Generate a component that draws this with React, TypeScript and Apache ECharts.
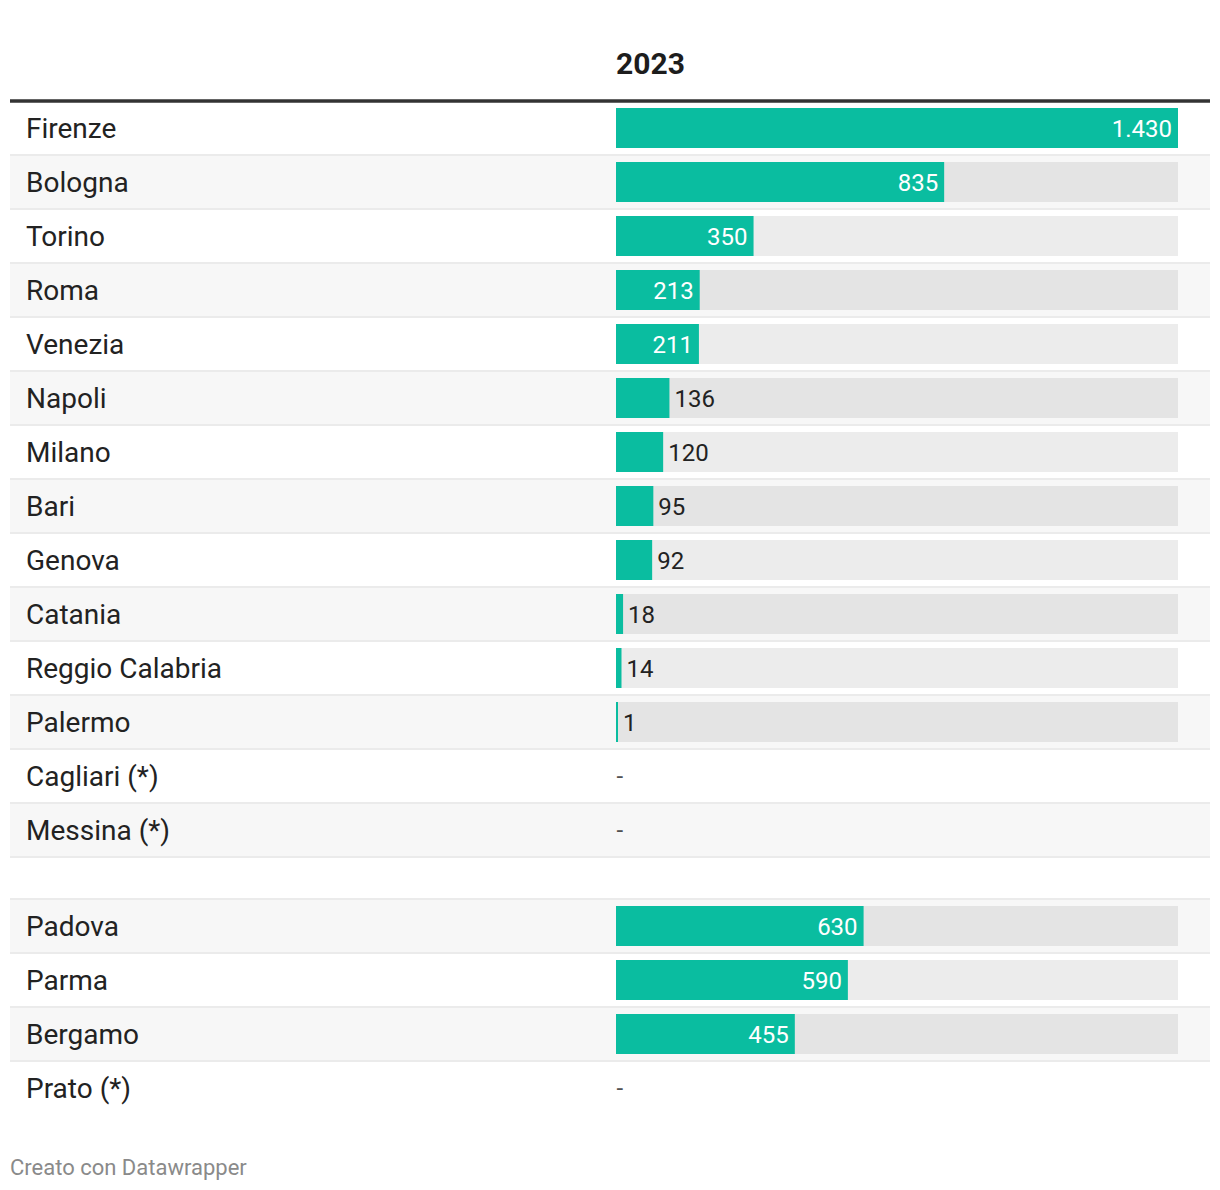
import React, { useEffect, useRef } from 'react';
import * as echarts from 'echarts';

// ---- data ----
const columnTitle = '2023';
const credit = 'Creato con Datawrapper';
const mainCities = [
  'Firenze', 'Bologna', 'Torino', 'Roma', 'Venezia', 'Napoli', 'Milano', 'Bari',
  'Genova', 'Catania', 'Reggio Calabria', 'Palermo', 'Cagliari (*)', 'Messina (*)',
];
const mainValues: (number | null)[] = [1430, 835, 350, 213, 211, 136, 120, 95, 92, 18, 14, 1, null, null];
const otherCities = ['Padova', 'Parma', 'Bergamo', 'Prato (*)'];
const otherValues: (number | null)[] = [630, 590, 455, null];

// ---- layout ----
const W = 1220;
const H = 1190;
const TABLE_LEFT = 10;
const TABLE_RIGHT = 1210;
const BAR_LEFT = 616;
const BAR_RIGHT = 1178;
const ROW_H = 54;
const TOP1 = 101;
const GAP = 42;
const FONT = 'Roboto, "Noto Sans", sans-serif';
const TEAL = '#0abda0';
const INSIDE_MIN = 200;

const allVals = [...mainValues, ...otherValues].filter((v): v is number => v != null);
const MAX = Math.max(...allVals);
const pxPerUnit = (BAR_RIGHT - BAR_LEFT) / MAX;
const X_MIN = -(BAR_LEFT - TABLE_LEFT) / pxPerUnit;
const X_MAX = MAX + (TABLE_RIGHT - BAR_RIGHT) / pxPerUnit;

const fmt = (v: number) => String(v).replace(/\B(?=(\d{3})+(?!\d))/g, '.');

function buildSeries(values: (number | null)[], cities: string[], gi: number) {
  return [
    {
      type: 'bar',
      xAxisIndex: gi,
      yAxisIndex: gi,
      barWidth: 40,
      barGap: '-100%',
      silent: true,
      itemStyle: { color: 'rgba(0,0,0,0.075)' },
      data: values.map((v) => (v == null ? null : MAX)),
    },
    {
      type: 'bar',
      xAxisIndex: gi,
      yAxisIndex: gi,
      barWidth: 40,
      barGap: '-100%',
      barMinHeight: 2,
      silent: true,
      itemStyle: { color: TEAL },
      data: values.map((v) =>
        v == null
          ? null
          : {
              value: v,
              label: {
                show: true,
                position: v >= INSIDE_MIN ? 'insideRight' : 'right',
                distance: v >= INSIDE_MIN ? 6 : 5,
                color: v >= INSIDE_MIN ? '#ffffff' : '#222222',
                fontSize: 24,
                fontFamily: FONT,
                offset: [0, 1],
                formatter: () => fmt(v),
              },
            }
      ),
    },
    {
      type: 'scatter',
      xAxisIndex: gi,
      yAxisIndex: gi,
      symbolSize: 1,
      silent: true,
      itemStyle: { color: 'rgba(0,0,0,0)' },
      label: {
        show: true,
        position: 'right',
        distance: 0,
        formatter: '-',
        color: '#222222',
        fontSize: 24,
        fontFamily: FONT,
      },
      data: values
        .map((v, i) => (v == null ? [0, cities[i]] : null))
        .filter((d) => d != null),
    },
  ];
}

function yAxisFor(cities: string[], gi: number, stripes: string[], first: boolean) {
  return {
    type: 'category',
    gridIndex: gi,
    data: cities,
    inverse: true,
    axisLine: { show: false },
    axisTick: { show: false },
    axisLabel: {
      align: 'left',
      margin: -(26 - TABLE_LEFT),
      fontSize: 28,
      fontFamily: FONT,
      color: '#222222',
      padding: [2, 0, 0, 0],
    },
    splitArea: { show: true, areaStyle: { color: stripes } },
    splitLine: {
      show: true,
      showMinLine: !first,
      showMaxLine: first,
      lineStyle: { color: '#ebebeb', width: 2 },
    },
  };
}

export default function App() {
  const ref = useRef<HTMLDivElement>(null);
  useEffect(() => {
    if (!ref.current) return;
    const chart = echarts.init(ref.current, undefined, { renderer: 'svg' });
    const top2 = TOP1 + mainCities.length * ROW_H + GAP;
    chart.setOption({
      animation: false,
      backgroundColor: '#ffffff',
      title: [
        {
          text: columnTitle,
          left: BAR_LEFT,
          top: 48,
          padding: 0,
          textStyle: { fontSize: 30, fontWeight: 'bold', color: '#1d1d1d', fontFamily: FONT },
        },
        {
          text: credit,
          left: TABLE_LEFT,
          top: 1156,
          padding: 0,
          textStyle: { fontSize: 22, fontWeight: 'normal', color: '#8a8a8a', fontFamily: FONT },
        },
      ],
      grid: [
        { left: TABLE_LEFT, width: TABLE_RIGHT - TABLE_LEFT, top: TOP1, height: mainCities.length * ROW_H },
        { left: TABLE_LEFT, width: TABLE_RIGHT - TABLE_LEFT, top: top2, height: otherCities.length * ROW_H },
      ],
      xAxis: [
        {
          type: 'value',
          gridIndex: 0,
          min: X_MIN,
          max: X_MAX,
          position: 'top',
          axisLine: { show: true, onZero: false, lineStyle: { color: '#333333', width: 3.5, cap: 'butt' } },
          axisTick: { show: false },
          axisLabel: { show: false },
          splitLine: { show: false },
          z: 10,
        },
        {
          type: 'value',
          gridIndex: 1,
          min: X_MIN,
          max: X_MAX,
          show: false,
        },
      ],
      yAxis: [
        yAxisFor(mainCities, 0, ['#ffffff', '#f7f7f7'], true),
        yAxisFor(otherCities, 1, ['#f7f7f7', '#ffffff'], false),
      ],
      series: [...buildSeries(mainValues, mainCities, 0), ...buildSeries(otherValues, otherCities, 1)],
    });
    return () => chart.dispose();
  }, []);
  return (
    <div
      ref={ref}
      style={{ position: 'absolute', left: 0, top: 0, width: W, height: H, background: '#fff' }}
    />
  );
}
